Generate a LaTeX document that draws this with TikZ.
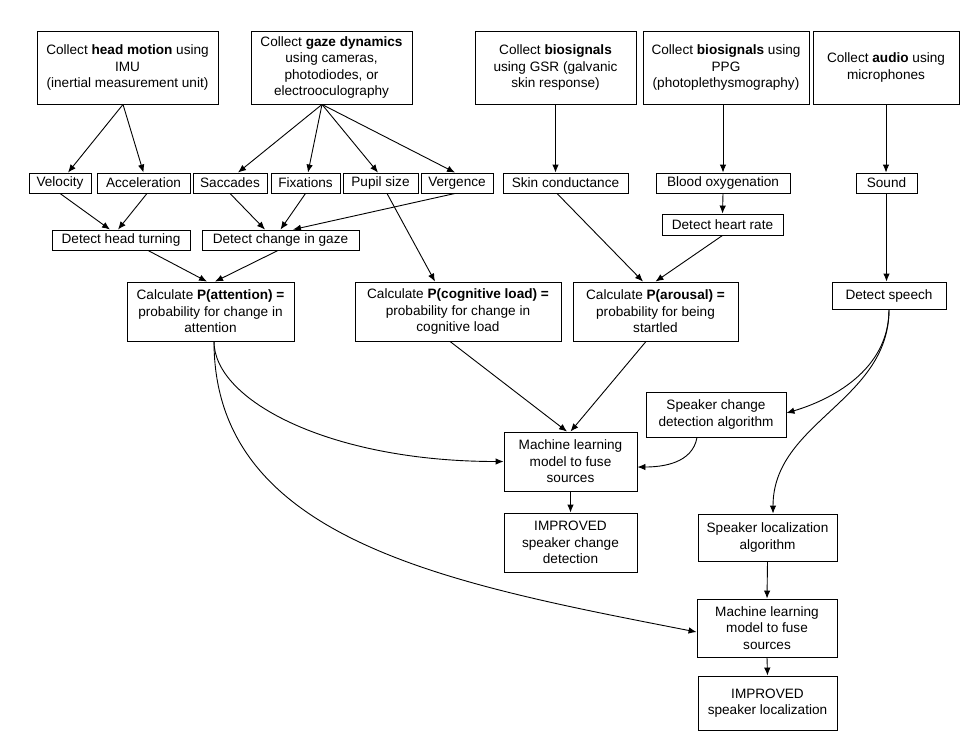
\documentclass[tikz,border=0pt]{standalone}
\usepackage{fontspec}
\setmainfont{Liberation Sans}
\usetikzlibrary{arrows.meta}

\begin{document}
\begin{tikzpicture}[x=1pt, y=1pt, >={Latex[length=8pt, width=6.5pt]},
    box/.style={draw, line width=0.9pt, inner sep=0pt, align=center, font=\fontsize{13.6}{16.5}\selectfont},
    link/.style={->, line width=0.9pt}]
    \useasboundingbox (0, 0) rectangle (976, -748);

    \node[box, minimum width=181pt, minimum height=73pt] (head) at (127.5, -67.5) {Collect \textbf{head motion} using\\IMU\\(inertial measurement unit)};
    \node[box, minimum width=161pt, minimum height=73pt] (gaze) at (331.5, -67.5) {Collect \textbf{gaze dynamics}\\using cameras,\\photodiodes, or\\electrooculography};
    \node[box, minimum width=161pt, minimum height=73pt] (gsr) at (555.5, -67.5) {Collect \textbf{biosignals}\\using GSR (galvanic\\skin response)};
    \node[box, minimum width=166pt, minimum height=73pt] (ppg) at (726, -67.5) {Collect \textbf{biosignals} using\\PPG\\(photoplethysmography)};
    \node[box, minimum width=146pt, minimum height=73pt] (audio) at (886, -67.5) {Collect \textbf{audio} using\\microphones};

    \node[box, minimum width=62pt, minimum height=20pt] (vel) at (60, -183) {Velocity};
    \node[box, minimum width=93pt, minimum height=20pt] (acc) at (143.5, -183) {Acceleration};
    \node[box, minimum width=74pt, minimum height=20pt] (sacc) at (230, -183) {Saccades};
    \node[box, minimum width=69pt, minimum height=20pt] (fix) at (305.5, -183) {Fixations};
    \node[box, minimum width=75pt, minimum height=20pt] (pupil) at (380.5, -183) {Pupil size};
    \node[box, minimum width=72pt, minimum height=20pt] (verg) at (457, -183) {Vergence};
    \node[box, minimum width=125pt, minimum height=20pt] (skin) at (565.5, -183) {Skin conductance};
    \node[box, minimum width=134pt, minimum height=20pt] (blood) at (723, -183) {Blood oxygenation};
    \node[box, minimum width=61pt, minimum height=20pt] (sound) at (886.5, -183) {Sound};

    \node[box, minimum width=138pt, minimum height=20pt] (turn) at (121, -240) {Detect head turning};
    \node[box, minimum width=157pt, minimum height=20pt] (gazechg) at (280.5, -240) {Detect change in gaze};
    \node[box, minimum width=121pt, minimum height=21pt] (heart) at (722.5, -224.5) {Detect heart rate};

    \node[box, minimum width=167pt, minimum height=59pt] (patt) at (210.5, -311.5) {Calculate \textbf{P(attention) =}\\probability for change in\\attention};
    \node[box, minimum width=206pt, minimum height=59pt] (pcog) at (458, -311.5) {Calculate \textbf{P(cognitive load) =}\\probability for change in\\cognitive load};
    \node[box, minimum width=165pt, minimum height=59pt] (paro) at (655.5, -311.5) {Calculate \textbf{P(arousal) =}\\probability for being\\startled};
    \node[box, minimum width=114pt, minimum height=27pt] (speech) at (889, -295.5) {Detect speech};

    \node[box, minimum width=140pt, minimum height=45pt] (spkchg) at (716, -414.5) {Speaker change\\detection algorithm};
    \node[box, minimum width=133pt, minimum height=59pt] (ml1) at (570.5, -461.5) {Machine learning\\model to fuse\\sources};
    \node[box, minimum width=133pt, minimum height=59pt] (imp1) at (570.5, -542.5) {IMPROVED\\speaker change\\detection};
    \node[box, minimum width=139pt, minimum height=47pt] (spkloc) at (767.5, -537.5) {Speaker localization\\algorithm};
    \node[box, minimum width=140pt, minimum height=58pt] (ml2) at (767, -628) {Machine learning\\model to fuse\\sources};
    \node[box, minimum width=139pt, minimum height=54pt] (imp2) at (767.5, -703) {IMPROVED\\speaker localization};

    \draw[link] ([xshift=-4.5pt]head.south) -- ([xshift=8pt]vel.north);
    \draw[link] ([xshift=-4.5pt]head.south) -- (acc.north);
    \draw[link] ([xshift=-9.5pt]gaze.south) -- ([xshift=8pt]sacc.north);
    \draw[link] ([xshift=-9.5pt]gaze.south) -- ([xshift=2.5pt]fix.north);
    \draw[link] ([xshift=-9.5pt]gaze.south) -- ([xshift=-2.5pt]pupil.north);
    \draw[link] ([xshift=-9.5pt]gaze.south) -- ([xshift=-2pt]verg.north);
    \draw[link] (gsr.south) -- (gsr.south |- skin.north);
    \draw[link] (blood.north |- ppg.south) -- (blood.north);
    \draw[link] (audio.south) -- (audio.south |- sound.north);

    \draw[link] (vel.south) -- ([xshift=-11pt]turn.north);
    \draw[link] ([xshift=3.5pt]acc.south) -- ([xshift=-3pt]turn.north);
    \draw[link] (sacc.south) -- ([xshift=-15.5pt]gazechg.north);
    \draw[link] (fix.south) -- (gazechg.north);
    \draw[link] ([xshift=-2pt]verg.south) -- ([xshift=12.5pt]gazechg.north);
    \draw[link] ([xshift=6.5pt]pupil.south) -- ([xshift=-23pt]pcog.north);
    \draw[link] (blood.south) -- (heart.north);
    \draw[link] (sound.south) -- (sound.south |- speech.north);

    \draw[link] ([xshift=27pt]turn.south) -- ([xshift=-3.5pt]patt.north);
    \draw[link] ([xshift=-2.5pt]gazechg.south) -- ([xshift=4.5pt]patt.north);
    \draw[link] ([xshift=-8.5pt]skin.south) -- ([xshift=-12.5pt]paro.north);
    \draw[link] (heart.south) -- (paro.north);

    \draw[link] ([xshift=-8pt]pcog.south) -- ([xshift=-3.5pt]ml1.north);
    \draw[link] ([xshift=-9.5pt]paro.south) -- (ml1.north);
    \draw[link] ([xshift=3.5pt]patt.south) .. controls +(0, -59) and +(-174, 0) .. (ml1.west);
    \draw[link] ([xshift=3.5pt]patt.south) .. controls +(0, -200) and +(-245, 48) .. ([yshift=-4pt]ml2.west);
    \draw[link] (speech.south) .. controls +(0, -61) and +(44, 13) .. ([yshift=1.5pt]spkchg.east);
    \draw[link] (speech.south) to[out=-90, in=90] ([xshift=5.5pt]spkloc.north);
    \draw[link] ([xshift=-19pt]spkchg.south) to[out=-100, in=0] ([yshift=-5.5pt]ml1.east);

    \draw[link] (ml1.south) -- (imp1.north);
    \draw[link] (spkloc.south) -- (ml2.north);
    \draw[link] (ml2.south) -- (imp2.north);
\end{tikzpicture}
\end{document}
